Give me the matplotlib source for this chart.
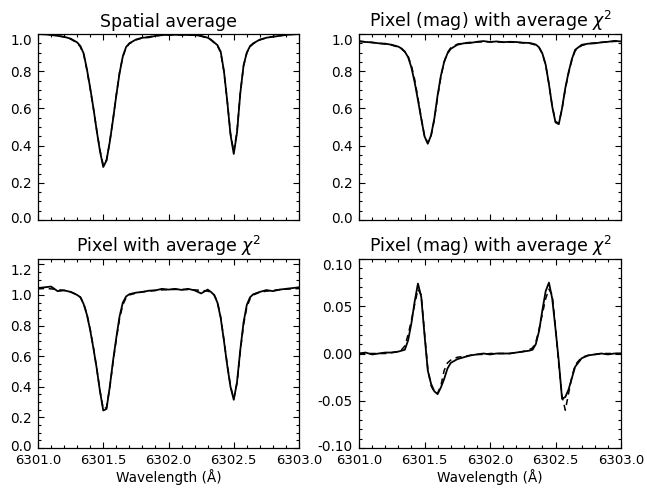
import matplotlib
matplotlib.use("Agg")
import matplotlib.pyplot as plt
from matplotlib.ticker import MultipleLocator, AutoMinorLocator, FormatStrFormatter, FixedLocator
from matplotlib.transforms import ScaledTranslation

plt.rcParams['font.family'] = ['DejaVu Sans']
plt.rcParams['axes.unicode_minus'] = False

wavelength = [6301.00, 6301.05, 6301.10, 6301.15, 6301.20, 6301.25, 6301.30, 6301.325,
              6301.35, 6301.375, 6301.40, 6301.425, 6301.45, 6301.475, 6301.50, 6301.525,
              6301.55, 6301.575, 6301.60, 6301.625, 6301.65, 6301.675, 6301.70, 6301.75,
              6301.80, 6301.85, 6301.90, 6301.95, 6302.00, 6302.05, 6302.10, 6302.15,
              6302.20, 6302.25, 6302.30, 6302.325, 6302.35, 6302.375, 6302.40, 6302.425,
              6302.45, 6302.475, 6302.50, 6302.525, 6302.55, 6302.575, 6302.60, 6302.625,
              6302.65, 6302.70, 6302.75, 6302.80, 6302.85, 6302.90, 6302.95, 6303.00]

# Panel 1: spatial average (Stokes I)
avg_obs = [1.000, 0.998, 0.995, 0.990, 0.985, 0.975, 0.955, 0.935,
           0.895, 0.810, 0.710, 0.600, 0.480, 0.370, 0.285, 0.320,
           0.420, 0.540, 0.670, 0.790, 0.880, 0.930, 0.950, 0.970,
           0.980, 0.982, 0.990, 0.995, 0.995, 0.996, 0.995, 0.995,
           0.994, 0.990, 0.980, 0.970, 0.955, 0.940, 0.905, 0.800,
           0.640, 0.460, 0.355, 0.470, 0.680, 0.830, 0.900, 0.935,
           0.950, 0.970, 0.980, 0.985, 0.990, 0.995, 0.998, 1.000]
avg_fit = [1.000, 0.999, 0.996, 0.991, 0.984, 0.973, 0.952, 0.930,
           0.890, 0.805, 0.705, 0.598, 0.482, 0.375, 0.295, 0.322,
           0.420, 0.542, 0.672, 0.792, 0.878, 0.926, 0.948, 0.968,
           0.979, 0.985, 0.990, 0.993, 0.995, 0.996, 0.996, 0.995,
           0.993, 0.988, 0.978, 0.968, 0.953, 0.936, 0.900, 0.797,
           0.640, 0.465, 0.368, 0.475, 0.682, 0.828, 0.898, 0.932,
           0.948, 0.968, 0.979, 0.986, 0.991, 0.995, 0.998, 1.000]

# Panel 2: magnetic pixel (Stokes I)
mag_obs = [0.960, 0.957, 0.955, 0.950, 0.948, 0.942, 0.932, 0.922,
           0.905, 0.875, 0.820, 0.740, 0.645, 0.545, 0.450, 0.410,
           0.455, 0.545, 0.670, 0.775, 0.850, 0.895, 0.920, 0.942,
           0.950, 0.952, 0.958, 0.962, 0.957, 0.960, 0.956, 0.958,
           0.957, 0.953, 0.952, 0.948, 0.943, 0.928, 0.895, 0.835,
           0.730, 0.610, 0.525, 0.515, 0.600, 0.710, 0.795, 0.865,
           0.915, 0.942, 0.948, 0.950, 0.955, 0.958, 0.963, 0.960]
mag_fit = [0.962, 0.958, 0.954, 0.950, 0.946, 0.940, 0.930, 0.920,
           0.904, 0.880, 0.830, 0.755, 0.655, 0.550, 0.452, 0.415,
           0.452, 0.540, 0.660, 0.770, 0.850, 0.900, 0.925, 0.945,
           0.952, 0.955, 0.957, 0.958, 0.958, 0.958, 0.957, 0.956,
           0.955, 0.953, 0.950, 0.946, 0.940, 0.926, 0.893, 0.833,
           0.730, 0.612, 0.530, 0.520, 0.598, 0.705, 0.790, 0.860,
           0.910, 0.938, 0.948, 0.952, 0.955, 0.958, 0.960, 0.962]

# Panel 3: pixel with average chi^2 (Stokes I)
pix_obs = [1.045, 1.050, 1.055, 1.025, 1.030, 1.020, 1.000, 0.985,
           0.940, 0.870, 0.770, 0.650, 0.520, 0.370, 0.245, 0.255,
           0.400, 0.570, 0.720, 0.860, 0.950, 0.990, 1.005, 1.015,
           1.020, 1.028, 1.030, 1.040, 1.035, 1.040, 1.033, 1.040,
           1.030, 1.010, 1.035, 1.020, 1.000, 0.950, 0.850, 0.700,
           0.540, 0.400, 0.315, 0.430, 0.640, 0.820, 0.935, 0.985,
           1.005, 1.020, 1.032, 1.025, 1.035, 1.040, 1.045, 1.050]
pix_fit = [1.040, 1.042, 1.040, 1.035, 1.030, 1.020, 1.002, 0.985,
           0.945, 0.875, 0.775, 0.655, 0.520, 0.375, 0.255, 0.265,
           0.395, 0.560, 0.710, 0.845, 0.935, 0.982, 1.000, 1.012,
           1.020, 1.025, 1.030, 1.033, 1.035, 1.036, 1.036, 1.035,
           1.033, 1.030, 1.025, 1.018, 1.000, 0.955, 0.855, 0.705,
           0.545, 0.405, 0.322, 0.425, 0.630, 0.805, 0.920, 0.975,
           1.000, 1.018, 1.025, 1.030, 1.034, 1.038, 1.040, 1.042]

# Panel 4: magnetic pixel (Stokes V)
v_obs = [0.000, 0.001, -0.001, 0.000, 0.001, 0.001, 0.002, 0.003,
         0.004, 0.014, 0.032, 0.055, 0.074, 0.060, 0.020, -0.018,
         -0.032, -0.040, -0.043, -0.036, -0.027, -0.016, -0.010, -0.006,
         -0.004, -0.002, -0.001, 0.000, -0.001, 0.000, 0.000, 0.000,
         0.001, 0.002, 0.003, 0.004, 0.010, 0.024, 0.046, 0.066,
         0.075, 0.058, 0.026, -0.008, -0.048, -0.046, -0.038, -0.026,
         -0.014, -0.005, -0.002, -0.001, 0.000, -0.001, 0.000, 0.000]
v_fit = [0.000, 0.000, 0.000, 0.000, 0.000, 0.001, 0.002, 0.004,
         0.008, 0.020, 0.035, 0.052, 0.068, 0.062, 0.022, -0.016,
         -0.034, -0.041, -0.042, -0.034, -0.018, -0.010, -0.007, -0.004,
         -0.003, -0.002, -0.001, -0.001, 0.000, 0.000, 0.000, 0.000,
         0.001, 0.002, 0.004, 0.006, 0.012, 0.026, 0.042, 0.058,
         0.068, 0.062, 0.028, -0.012, -0.045, -0.060, -0.042, -0.025,
         -0.012, -0.004, -0.002, -0.001, 0.000, 0.000, 0.000, 0.000]

titles = ["Spatial average", r"Pixel (mag) with average $\chi^2$",
          r"Pixel with average $\chi^2$", r"Pixel (mag) with average $\chi^2$"]
xlabel = "Wavelength (Å)"
xticks = [6301.0, 6301.5, 6302.0, 6302.5, 6303.0]
yticks_top = [0.0, 0.2, 0.4, 0.6, 0.8, 1.0]
yticks_bl = [0.0, 0.2, 0.4, 0.6, 0.8, 1.0, 1.2]
yticks_br = [-0.10, -0.05, 0.00, 0.05, 0.10]

fig = plt.figure(figsize=(6.47, 4.90), dpi=100)
W, H = 647, 490
def ax_at(x0, y0, x1, y1):
    return fig.add_axes([x0 / W, 1 - y1 / H, (x1 - x0) / W, (y1 - y0) / H])

axes = [ax_at(38, 34, 299, 220), ax_at(359, 34, 621, 220),
        ax_at(38, 259, 299, 448), ax_at(359, 259, 621, 448)]
obs = [avg_obs, mag_obs, pix_obs, v_obs]
fit = [avg_fit, mag_fit, pix_fit, v_fit]
ylims = [(0, 1.0), (0, 1.0), (0, 1.235), (-0.1, 0.1)]
yticks = [yticks_top, yticks_top, yticks_bl, yticks_br]
yminn = [4, 4, 4, 5]
yfmt = ["%.1f", "%.1f", "%.1f", "%.2f"]

for i, ax in enumerate(axes):
    ax.plot(wavelength, obs[i], color='black', lw=1.3)
    ax.plot(wavelength, fit[i], color='black', lw=1.1, linestyle=(0, (4, 3)))
    ax.set_xlim(6301.0, 6303.0)
    ax.set_ylim(*ylims[i])
    ax.set_xticks(xticks)
    ax.xaxis.set_minor_locator(AutoMinorLocator(5))
    ax.set_yticks(yticks[i])
    ax.yaxis.set_minor_locator(AutoMinorLocator(yminn[i]))
    ax.yaxis.set_major_formatter(FormatStrFormatter(yfmt[i]))
    ax.tick_params(which='both', direction='in', top=True, right=True, width=0.8)
    ax.tick_params(which='major', length=4.5)
    ax.tick_params(which='minor', length=2.3)
    ax.tick_params(axis='y', labelsize=9.8, pad=4.5)
    ax.tick_params(axis='x', labelsize=9.5, pad=4)
    for s in ax.spines.values():
        s.set_linewidth(0.9)
    ax.set_title(titles[i], fontsize=12.5, pad=5)
    if i < 2:
        ax.set_xticklabels([])
    else:
        ax.xaxis.set_major_formatter(FormatStrFormatter("%.1f"))
        ax.set_xlabel(xlabel, fontsize=9.8, labelpad=2)

fig.canvas.draw()
# nudge end y-labels inward, as in the reference
for i, ax in enumerate(axes):
    ticks = ax.yaxis.get_major_ticks()
    locs = ax.yaxis.get_majorticklocs()
    lo, hi = ylims[i]
    for t, v in zip(ticks, locs):
        if abs(v - hi) < 0.03 * (hi - lo):
            dy = -(hi - v) / (hi - lo) * 0 - 5.0
            t.label1.set_transform(t.label1.get_transform() + ScaledTranslation(0, dy / 72 * 0.72, fig.dpi_scale_trans))
        elif abs(v - lo) < 1e-9:
            t.label1.set_transform(t.label1.get_transform() + ScaledTranslation(0, 3.0 / 100, fig.dpi_scale_trans))

fig.savefig("out.png", dpi=100)
